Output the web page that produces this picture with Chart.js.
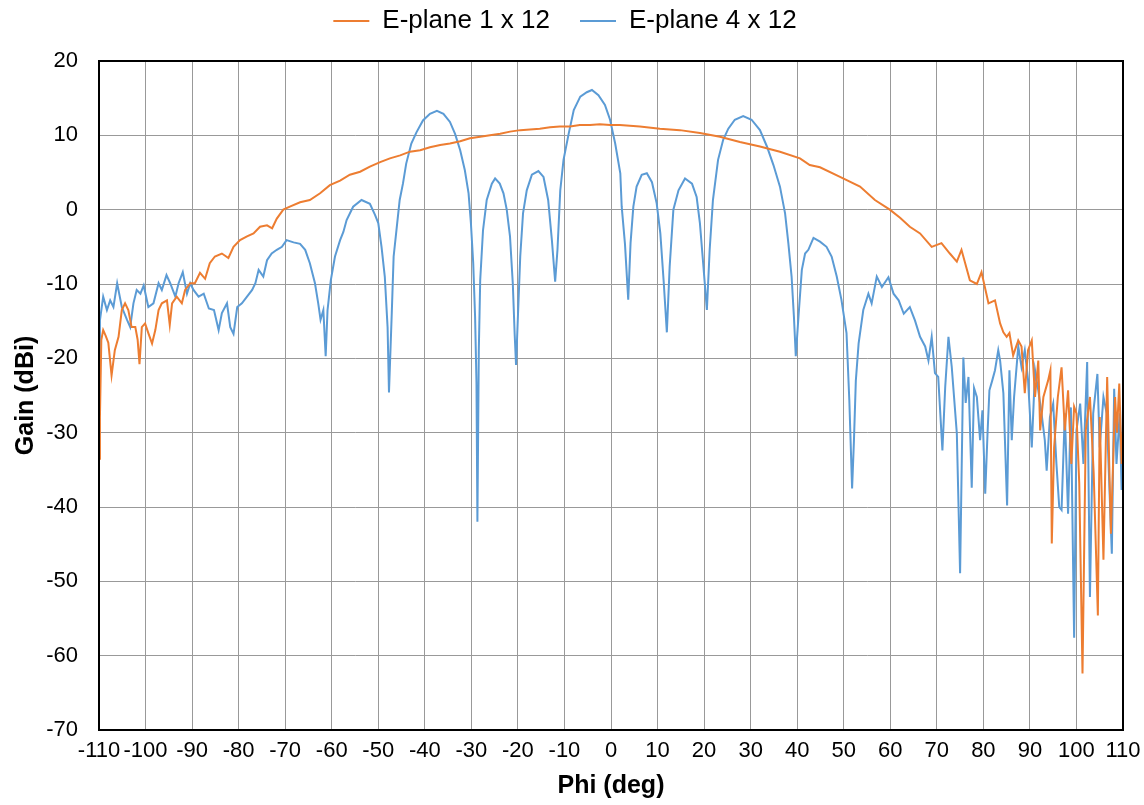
<!DOCTYPE html>
<html>
<head>
<meta charset="utf-8">
<script src="https://cdn.jsdelivr.net/npm/chart.js@4.4.1/dist/chart.umd.min.js"></script>
<style>
  html, body { margin: 0; padding: 0; background: #fff; }
  #wrap { width: 1144px; height: 805px; position: relative; }
</style>
</head>
<body>
<div id="wrap"><canvas id="gainChart"></canvas></div>
<script>
// E-plane 1 x 12 (orange) - phi in degrees, gain in dBi
const phi1x12 = [
  -110.0, -109.8, -109.5, -109.1, -108.6, -108.0, -107.3, -106.6, -105.8, -105.1,
  -104.4, -103.7, -103.0, -102.2, -101.7, -101.3, -100.8, -100.1, -99.4, -98.6,
  -97.9, -97.2, -96.5, -95.4, -94.8, -94.3, -93.3, -92.2, -91.5, -90.4,
  -89.4, -88.3, -87.2, -86.2, -85.1, -83.6, -82.2, -81.1, -79.7, -78.2,
  -76.8, -75.4, -73.9, -72.8, -71.8, -70.4, -69.0, -66.8, -64.7, -62.5,
  -60.4, -58.2, -56.1, -53.9, -51.8, -49.6, -47.5, -45.3, -43.2, -41.0,
  -38.9, -36.7, -34.6, -32.4, -30.3, -28.1, -26.0, -23.8, -21.7, -19.5,
  -17.4, -15.3, -13.1, -11.0, -8.8, -6.7, -4.5, -2.4, -0.2, 1.9,
  6.2, 10.5, 14.8, 19.1, 23.4, 27.7, 32.0, 36.3, 40.6, 42.7,
  44.9, 49.2, 53.5, 56.7, 59.9, 62.1, 64.2, 66.4, 68.9, 71.0,
  72.8, 74.3, 75.3, 77.1, 78.6, 79.6, 81.1, 82.5, 83.6, 84.3,
  85.0, 85.6, 86.4, 87.0, 87.5, 88.2, 88.9, 89.6, 90.4, 91.1,
  91.8, 92.2, 92.9, 93.9, 94.4, 94.7, 95.2, 96.0, 96.8, 97.5,
  98.2, 98.9, 99.5, 100.0, 100.6, 101.3, 102.0, 102.9, 103.7, 104.6,
  105.0, 105.8, 106.6, 107.4, 108.3, 108.7, 109.2, 109.7, 110.0
];
const gain1x12 = [
  -33.5, -28.0, -17.5, -16.2, -16.9, -17.9, -22.3, -18.9, -17.1, -13.5,
  -12.6, -13.5, -15.8, -15.8, -17.5, -20.8, -15.8, -15.3, -16.6, -18.0,
  -16.2, -13.5, -12.6, -12.2, -15.5, -12.6, -11.7, -12.6, -10.8, -9.9,
  -9.9, -8.5, -9.3, -7.2, -6.3, -5.9, -6.5, -5.0, -4.1, -3.6,
  -3.2, -2.3, -2.1, -2.5, -1.2, 0.0, 0.4, 1.0, 1.3, 2.2,
  3.3, 3.9, 4.7, 5.1, 5.8, 6.4, 6.9, 7.3, 7.8, 8.0,
  8.4, 8.7, 8.9, 9.2, 9.6, 9.8, 10.0, 10.2, 10.5, 10.7,
  10.8, 10.9, 11.1, 11.2, 11.2, 11.4, 11.4, 11.5, 11.4, 11.4,
  11.2, 10.9, 10.7, 10.3, 9.8, 9.1, 8.5, 7.8, 6.9, 6.0,
  5.7, 4.4, 3.1, 1.3, 0.0, -1.1, -2.3, -3.2, -5.0, -4.5,
  -5.9, -7.0, -5.4, -9.5, -10.0, -8.4, -12.6, -12.2, -15.3, -16.5,
  -17.1, -16.6, -19.6, -18.5, -17.6, -18.4, -24.7, -18.9, -17.6, -25.2,
  -20.3, -29.7, -25.2, -23.0, -21.6, -44.9, -32.0, -25.2, -21.2, -29.7,
  -24.3, -34.2, -26.5, -27.4, -36.8, -62.4, -29.7, -25.2, -35.4, -54.6,
  -27.9, -47.1, -22.5, -43.6, -25.2, -30.0, -23.4, -34.2, -29.7
];

// E-plane 4 x 12 (blue)
const phi4x12 = [
  -110.0, -109.8, -109.1, -108.3, -107.6, -106.9, -106.1, -105.1, -104.0, -103.3,
  -102.6, -101.9, -101.1, -100.4, -99.4, -98.3, -97.2, -96.5, -95.5, -94.7,
  -93.6, -92.9, -92.0, -91.1, -90.4, -89.7, -88.6, -87.5, -86.4, -85.3,
  -84.3, -83.6, -82.5, -81.8, -81.1, -80.3, -79.3, -78.2, -77.1, -76.4,
  -75.7, -74.7, -73.9, -72.9, -71.8, -70.7, -69.7, -68.2, -66.8, -65.7,
  -64.7, -63.6, -62.9, -62.4, -61.8, -61.3, -60.9, -60.2, -59.3, -58.2,
  -57.5, -56.8, -55.4, -53.6, -51.8, -50.7, -50.0, -49.3, -48.6, -48.0,
  -47.7, -47.1, -46.7, -46.1, -45.4, -44.7, -44.0, -42.9, -41.8, -40.4,
  -38.9, -37.4, -36.0, -34.6, -33.5, -32.4, -31.4, -30.6, -30.1, -29.6,
  -29.2, -28.9, -28.7, -28.4, -28.1, -27.5, -26.7, -25.6, -24.9, -23.9,
  -23.1, -22.4, -21.7, -21.1, -20.7, -20.4, -20.0, -19.5, -18.9, -18.1,
  -17.0, -15.6, -14.5, -13.5, -12.7, -12.0, -11.5, -10.9, -10.2, -9.1,
  -8.0, -6.6, -5.2, -4.1, -2.7, -1.3, -0.2, 0.9, 2.0, 2.3,
  3.0, 3.7, 4.2, 4.8, 5.5, 6.6, 7.7, 8.8, 9.8, 10.6,
  11.3, 12.0, 12.6, 13.4, 14.5, 15.9, 17.4, 18.4, 19.1, 19.8,
  20.6, 21.2, 21.9, 23.0, 24.1, 25.2, 26.6, 28.4, 30.2, 32.0,
  33.5, 34.9, 36.3, 37.4, 38.1, 38.8, 39.3, 39.7, 40.3, 41.0,
  41.7, 42.4, 43.5, 44.9, 46.3, 47.4, 48.5, 49.5, 50.6, 51.2,
  51.8, 52.2, 52.6, 53.2, 54.2, 55.3, 56.0, 57.1, 58.2, 59.6,
  60.7, 61.8, 62.9, 64.2, 65.3, 66.4, 67.5, 68.2, 68.9, 69.6,
  70.3, 71.2, 71.8, 72.5, 73.2, 74.3, 75.0, 75.7, 76.2, 76.8,
  77.5, 78.0, 78.6, 79.3, 79.8, 80.4, 80.9, 81.3, 81.9, 82.5,
  83.2, 83.6, 84.3, 85.1, 85.6, 86.1, 86.6, 87.5, 88.2, 88.9,
  89.6, 90.4, 91.1, 91.8, 92.5, 93.2, 93.6, 94.3, 95.0, 95.7,
  96.3, 96.8, 97.5, 98.2, 98.8, 99.5, 100.0, 100.8, 101.5, 102.3,
  102.9, 103.6, 104.5, 105.0, 105.8, 106.5, 107.6, 108.1, 108.6, 109.3,
  109.7, 110.0
];
const gain4x12 = [
  -19.9, -14.9, -11.7, -13.5, -12.2, -13.1, -9.9, -13.1, -14.8, -15.8,
  -12.6, -10.8, -11.3, -10.2, -13.1, -12.6, -9.9, -10.8, -8.8, -9.9,
  -11.7, -9.9, -8.4, -11.3, -9.9, -10.8, -11.7, -11.3, -13.3, -13.5,
  -16.2, -13.9, -12.6, -15.8, -16.7, -13.1, -12.6, -11.7, -10.8, -9.9,
  -8.1, -9.0, -6.8, -5.9, -5.4, -5.0, -4.1, -4.4, -4.6, -5.4,
  -7.2, -9.9, -12.6, -14.8, -13.5, -19.7, -13.5, -9.5, -6.3, -4.1,
  -3.0, -1.4, 0.4, 1.3, 0.8, -0.7, -1.8, -5.0, -9.0, -15.8,
  -24.6, -13.9, -6.3, -2.8, 1.3, 3.5, 6.2, 8.9, 10.4, 12.0,
  12.9, 13.3, 12.9, 11.8, 10.2, 8.0, 5.3, 2.2, -1.8, -7.2,
  -14.4, -23.3, -42.0, -18.9, -9.5, -2.8, 1.3, 3.5, 4.2, 3.5,
  2.2, 0.0, -3.6, -9.9, -16.7, -20.9, -14.4, -6.3, -0.5, 2.6,
  4.7, 5.2, 4.4, 1.3, -4.1, -9.7, -5.4, 2.6, 6.7, 10.2,
  13.4, 15.2, 15.8, 16.1, 15.4, 14.1, 12.1, 8.9, 4.9, 0.4,
  -4.6, -12.1, -4.5, 0.4, 3.1, 4.7, 4.9, 3.7, 0.9, -3.2,
  -9.5, -16.5, -7.7, 0.0, 2.6, 4.2, 3.5, 1.7, -1.8, -7.2,
  -13.5, -5.4, 1.3, 6.7, 9.4, 10.9, 12.1, 12.6, 12.1, 10.7,
  8.5, 6.0, 3.1, -0.5, -4.5, -9.0, -14.4, -19.7, -14.2, -8.1,
  -5.9, -5.4, -3.8, -4.3, -5.0, -6.3, -9.0, -12.1, -16.6, -25.6,
  -37.5, -31.0, -23.0, -18.0, -13.5, -11.3, -12.6, -9.0, -10.4, -9.1,
  -11.3, -12.2, -14.0, -13.1, -14.9, -17.1, -18.4, -20.3, -17.1, -22.0,
  -22.5, -32.4, -23.9, -17.1, -21.1, -30.1, -48.9, -19.9, -26.0, -22.5,
  -37.4, -24.0, -25.2, -31.0, -27.0, -38.2, -30.0, -24.3, -23.0, -21.6,
  -18.9, -20.3, -24.7, -39.8, -21.6, -31.0, -25.2, -18.4, -21.2, -18.9,
  -22.9, -32.0, -21.6, -24.3, -27.4, -31.0, -35.1, -27.9, -26.1, -34.2,
  -40.0, -40.4, -27.4, -40.9, -26.6, -57.6, -29.7, -26.1, -34.2, -20.5,
  -52.1, -27.4, -22.1, -32.0, -25.2, -27.4, -46.3, -24.1, -34.2, -27.4,
  -37.7, -26.1
];

const seriesNames = ["E-plane 1 x 12", "E-plane 4 x 12"];

function toPoints(xs, ys) {
  return xs.map((x, i) => ({ x: x, y: ys[i] }));
}

// black frame round the plot area
const frame = {
  id: "frame",
  afterDraw(chart) {
    const a = chart.chartArea;
    const ctx = chart.ctx;
    ctx.save();
    ctx.strokeStyle = "#000";
    ctx.lineWidth = 2;
    ctx.strokeRect(a.left, a.top, a.right - a.left, a.bottom - a.top);
    ctx.restore();
  }
};

// legend: wide item spacing, text near the top, plot starting at y=61
const legendGap = {
  id: "legendGap",
  beforeInit(chart) {
    const fit = chart.legend.fit;
    chart.legend.fit = function () {
      fit.bind(chart.legend)();
      this.height = 61;
    };
  },
  afterLayout(chart) {
    chart.legend.top -= 22;
  }
};

const font = "'Liberation Sans', Arial, sans-serif";

new Chart(document.getElementById("gainChart"), {
  type: "scatter",
  data: {
    datasets: [
      {
        label: seriesNames[0],
        data: toPoints(phi1x12, gain1x12),
        borderColor: "#ED7D31",
        backgroundColor: "#ED7D31",
        borderWidth: 2,
        showLine: true,
        pointRadius: 0,
        pointStyle: "line"
      },
      {
        label: seriesNames[1],
        data: toPoints(phi4x12, gain4x12),
        borderColor: "#5B9BD5",
        backgroundColor: "#5B9BD5",
        borderWidth: 2,
        showLine: true,
        pointRadius: 0,
        pointStyle: "line"
      }
    ]
  },
  options: {
    responsive: true,
    maintainAspectRatio: false,
    animation: false,
    layout: { padding: { left: 7, right: 21, top: 0, bottom: 0 } },
    plugins: {
      tooltip: { enabled: false },
      legend: {
        position: "top",
        labels: {
          usePointStyle: true,
          pointStyleWidth: 36,
          color: "#000",
          padding: 30,
          font: { family: font, size: 26 }
        }
      }
    },
    scales: {
      x: {
        type: "linear",
        min: -110,
        max: 110,
        afterFit: s => { s.height = 75; s.paddingRight = 0; s.paddingLeft = 0; },
        ticks: {
          stepSize: 10,
          autoSkip: false,
          maxRotation: 0,
          padding: 8,
          color: "#000",
          font: { family: font, size: 22 }
        },
        grid: { color: "#999", drawTicks: false },
        border: { color: "#000", width: 2 },
        title: {
          display: true,
          text: "Phi (deg)",
          color: "#000",
          font: { family: font, size: 25, weight: "bold" },
          padding: { top: 6 }
        }
      },
      y: {
        min: -70,
        max: 20,
        afterFit: s => { s.width = 92; },
        ticks: {
          stepSize: 10,
          padding: 21,
          color: "#000",
          font: { family: font, size: 22 }
        },
        grid: { color: "#999", drawTicks: false },
        border: { color: "#000", width: 2 },
        title: {
          display: true,
          text: "Gain (dBi)",
          color: "#000",
          font: { family: font, size: 25, weight: "bold" }
        }
      }
    }
  },
  plugins: [frame, legendGap]
});
</script>
</body>
</html>
